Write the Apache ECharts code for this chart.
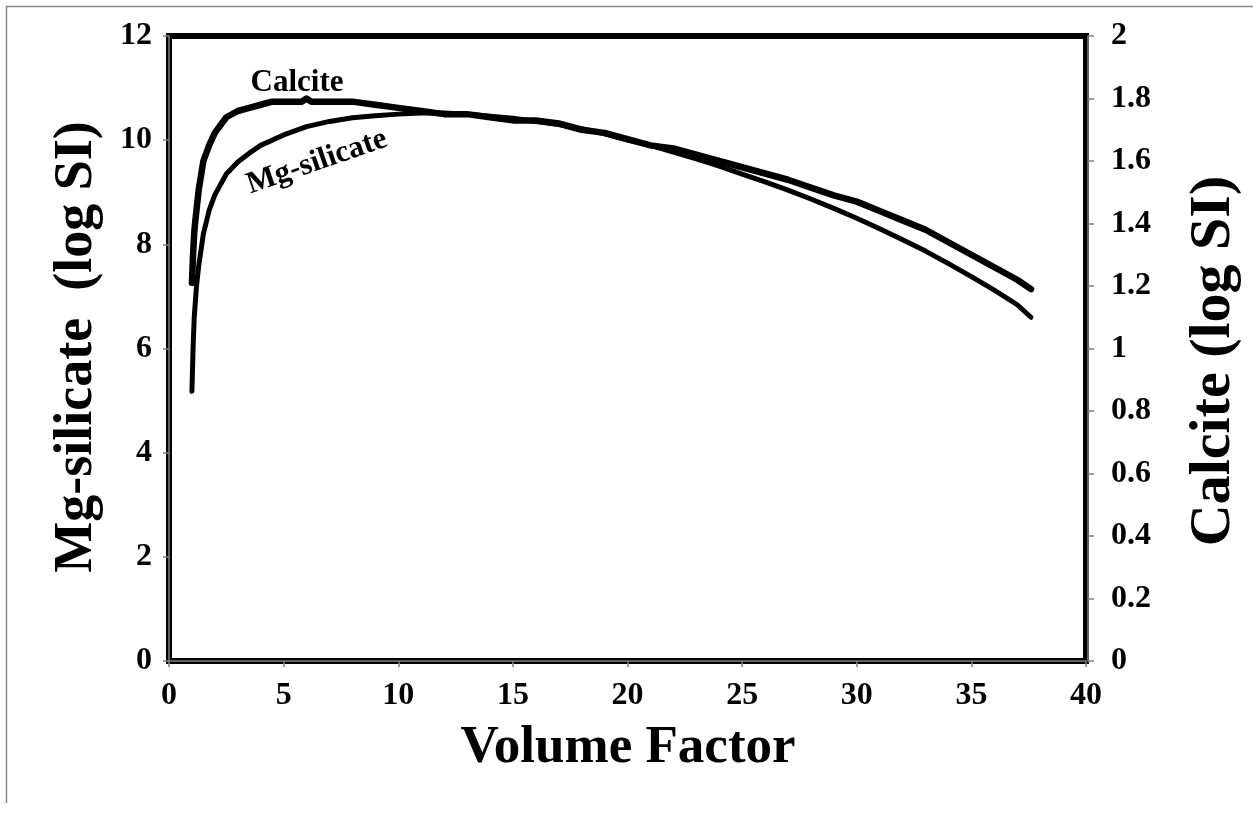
<!DOCTYPE html>
<html>
<head>
<meta charset="utf-8">
<script src="https://cdn.jsdelivr.net/npm/echarts@6/dist/echarts.min.js"></script>
<style>
  html, body { margin: 0; padding: 0; background: #fff; }
  #chart { width: 1253px; height: 814px; }
</style>
</head>
<body>
<div id="chart"></div>
<script>
// Saturation indices along the evaporation path (volume factor)
const mgVolume = [1.0, 1.05, 1.1, 1.2, 1.3, 1.5, 1.75, 2, 2.5, 3, 3.5, 4, 5, 6, 7, 8, 9, 10, 11, 12, 13, 14, 15, 16, 17, 18, 19, 20, 21, 22, 23, 24, 25, 26, 27, 28, 29, 30, 31, 32, 33, 34, 35, 36, 37, 37.6];
const mgSilicateSI = [5.18, 6.0, 6.6, 7.2, 7.6, 8.2, 8.65, 8.95, 9.35, 9.58, 9.75, 9.9, 10.1, 10.26, 10.36, 10.43, 10.47, 10.5, 10.52, 10.52, 10.5, 10.46, 10.42, 10.36, 10.3, 10.22, 10.12, 10.0, 9.9, 9.77, 9.64, 9.5, 9.35, 9.2, 9.04, 8.87, 8.69, 8.5, 8.3, 8.09, 7.87, 7.63, 7.38, 7.12, 6.84, 6.6];

const calciteVolume = [1.0, 1.05, 1.1, 1.15, 1.3, 1.5, 1.75, 2, 2.5, 3, 3.5, 4, 4.5, 5, 5.8, 6.0, 6.2, 7, 8, 9, 10, 11, 12, 13, 14, 15, 16, 17, 18, 19, 20, 21, 22, 23, 24, 25, 26, 27, 28, 29, 30, 31, 32, 33, 34, 35, 36, 37, 37.6];
const calciteSI = [1.21, 1.3, 1.37, 1.41, 1.51, 1.6, 1.65, 1.69, 1.74, 1.76, 1.77, 1.78, 1.79, 1.79, 1.79, 1.8, 1.79, 1.79, 1.79, 1.78, 1.77, 1.76, 1.75, 1.75, 1.74, 1.73, 1.73, 1.72, 1.7, 1.69, 1.67, 1.65, 1.64, 1.62, 1.6, 1.58, 1.56, 1.54, 1.515, 1.49, 1.47, 1.44, 1.41, 1.38, 1.34, 1.3, 1.26, 1.22, 1.19];

const xTicks = [0, 5, 10, 15, 20, 25, 30, 35, 40];
const leftTicks = [0, 2, 4, 6, 8, 10, 12];
const rightTicks = [0, 0.2, 0.4, 0.6, 0.8, 1, 1.2, 1.4, 1.6, 1.8, 2];

const FONT = "'Liberation Serif', 'DejaVu Serif', serif";
const tickLabel = { fontFamily: FONT, fontWeight: 'bold', fontSize: 32, color: '#000' };
const axisGray = { show: true, lineStyle: { color: '#808080', width: 1.5 } };
const tickGray = { show: true, length: 6, inside: false, lineStyle: { color: '#808080', width: 1.5 } };

const pairs = (xs, ys) => xs.map((x, i) => [x, ys[i]]);

const chart = echarts.init(document.getElementById('chart'), null, { renderer: 'canvas' });

chart.setOption({
  animation: false,
  backgroundColor: '#fff',
  grid: {
    left: 169, right: 167, top: 36, bottom: 153,
    show: true, borderColor: '#000', borderWidth: 6, backgroundColor: 'transparent'
  },
  xAxis: {
    type: 'value', min: xTicks[0], max: xTicks[xTicks.length - 1], interval: xTicks[1] - xTicks[0],
    offset: 2,
    axisLine: axisGray, axisTick: tickGray, splitLine: { show: false },
    axisLabel: Object.assign({ margin: 17 }, tickLabel)
  },
  yAxis: [
    {
      type: 'value', position: 'left', min: leftTicks[0], max: leftTicks[leftTicks.length - 1],
      interval: leftTicks[1] - leftTicks[0], offset: 3,
      axisLine: axisGray, axisTick: tickGray, splitLine: { show: false },
      axisLabel: Object.assign({ margin: 14 }, tickLabel)
    },
    {
      type: 'value', position: 'right', min: rightTicks[0], max: rightTicks[rightTicks.length - 1],
      interval: 0.2, offset: 2,
      axisLine: axisGray, axisTick: tickGray, splitLine: { show: false },
      axisLabel: Object.assign({ margin: 23, formatter: v => String(Math.round(v * 10) / 10) }, tickLabel)
    }
  ],
  series: [
    {
      name: 'Mg-silicate', type: 'line', yAxisIndex: 0,
      data: pairs(mgVolume, mgSilicateSI),
      smooth: false, showSymbol: false,
      lineStyle: { color: '#000', width: 5, cap: 'round', join: 'round' }
    },
    {
      name: 'Calcite', type: 'line', yAxisIndex: 1,
      data: pairs(calciteVolume, calciteSI),
      smooth: false, showSymbol: false,
      lineStyle: { color: '#000', width: 6.5, cap: 'round', join: 'round' }
    }
  ],
  graphic: [
    // outer frame edges
    { type: 'polyline', shape: { points: [[6.5, 803], [6.5, 6.5], [1253, 6.5]] },
      style: { stroke: '#888', lineWidth: 1.5, fill: null }, silent: true },
    // axis titles
    { type: 'text', x: 77, y: 347, rotation: Math.PI / 2,
      style: { text: 'Mg-silicate  (log SI)', font: `bold 54px ${FONT}`, fill: '#000', align: 'center', verticalAlign: 'middle' } },
    { type: 'text', x: 1214, y: 361, rotation: Math.PI / 2,
      style: { text: 'Calcite (log SI)', font: `bold 58px ${FONT}`, fill: '#000', align: 'center', verticalAlign: 'middle' } },
    { type: 'text', x: 628, y: 748,
      style: { text: 'Volume Factor', font: `bold 53px ${FONT}`, fill: '#000', align: 'center', verticalAlign: 'middle' } },
    // curve labels
    { type: 'text', x: 297, y: 83,
      style: { text: 'Calcite', font: `bold 31px ${FONT}`, fill: '#000', align: 'center', verticalAlign: 'middle' } },
    { type: 'text', x: 317, y: 162, rotation: 19 * Math.PI / 180,
      style: { text: 'Mg-silicate', font: `bold 31px ${FONT}`, fill: '#000', align: 'center', verticalAlign: 'middle' } }
  ]
});
</script>
</body>
</html>
